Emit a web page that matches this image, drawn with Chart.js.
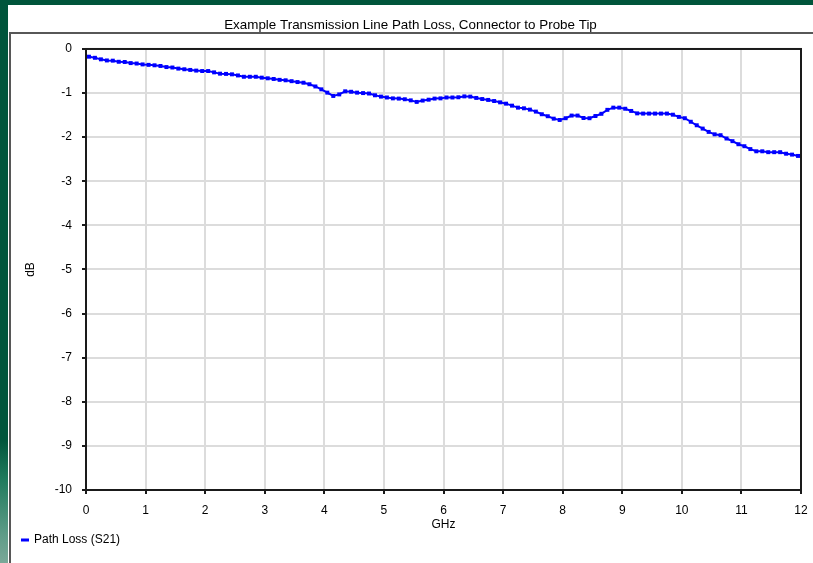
<!DOCTYPE html>
<html>
<head>
<meta charset="utf-8">
<title>Path Loss</title>
<script src="https://cdn.jsdelivr.net/npm/chart.js@4.4.1/dist/chart.umd.min.js"></script>
<style>
  html, body { margin: 0; padding: 0; }
  body {
    width: 813px; height: 563px; overflow: hidden; position: relative;
    background: linear-gradient(to bottom, #00553b 0%, #00553b 78%, #1f7a5c 85%, #5f9c88 95%, #7aa898 100%);
  }
  #panel { position: absolute; left: 8px; top: 5px; right: 0; bottom: 0; background: #fff; }
  #frame { position: absolute; left: 9px; top: 32px; width: 820px; height: 560px;
           border-top: 2px solid #575757; border-left: 2px solid #575757; }
  #chart { position: absolute; left: 0; top: 0; }
</style>
</head>
<body>
<div id="panel"></div>
<div id="frame"></div>
<canvas id="chart" width="813" height="563"></canvas>
<script>
// ===== DATA =====
const chartTitle  = "Example Transmission Line Path Loss, Connector to Probe Tip";
const seriesName  = "Path Loss (S21)";
const xTitle      = "GHz";
const yTitle      = "dB";
const xTicks      = [0, 1, 2, 3, 4, 5, 6, 7, 8, 9, 10, 11, 12];
const yTicks      = [0, -1, -2, -3, -4, -5, -6, -7, -8, -9, -10];

// sweep frequencies (GHz)
const freqGHz = [
  0.05, 0.15, 0.25, 0.35, 0.45, 0.55, 0.65, 0.75, 0.85, 0.95,
  1.05, 1.15, 1.25, 1.35, 1.45, 1.55, 1.65, 1.75, 1.85, 1.95,
  2.05, 2.15, 2.25, 2.35, 2.45, 2.55, 2.65, 2.75, 2.85, 2.95,
  3.05, 3.15, 3.25, 3.35, 3.45, 3.55, 3.65, 3.75, 3.85, 3.95,
  4.05, 4.15, 4.25, 4.35, 4.45, 4.55, 4.65, 4.75, 4.85, 4.95,
  5.05, 5.15, 5.25, 5.35, 5.45, 5.55, 5.65, 5.75, 5.85, 5.95,
  6.05, 6.15, 6.25, 6.35, 6.45, 6.55, 6.65, 6.75, 6.85, 6.95,
  7.05, 7.15, 7.25, 7.35, 7.45, 7.55, 7.65, 7.75, 7.85, 7.95,
  8.05, 8.15, 8.25, 8.35, 8.45, 8.55, 8.65, 8.75, 8.85, 8.95,
  9.05, 9.15, 9.25, 9.35, 9.45, 9.55, 9.65, 9.75, 9.85, 9.95,
  10.05, 10.15, 10.25, 10.35, 10.45, 10.55, 10.65, 10.75, 10.85, 10.95,
  11.05, 11.15, 11.25, 11.35, 11.45, 11.55, 11.65, 11.75, 11.85, 11.95
];

// S21 (dB)
const s21dB = [
  -0.175, -0.20, -0.235, -0.26, -0.265, -0.29, -0.295, -0.32, -0.33, -0.35,
  -0.36, -0.37, -0.385, -0.41, -0.42, -0.445, -0.46, -0.475, -0.49, -0.50,
  -0.50, -0.53, -0.56, -0.565, -0.575, -0.60, -0.63, -0.63, -0.63, -0.65,
  -0.665, -0.68, -0.70, -0.71, -0.73, -0.75, -0.765, -0.80, -0.85, -0.915,
  -0.99, -1.065, -1.03, -0.96, -0.97, -0.99, -1.00, -1.01, -1.05, -1.08,
  -1.10, -1.12, -1.125, -1.14, -1.165, -1.20, -1.17, -1.15, -1.125, -1.12,
  -1.10, -1.10, -1.095, -1.075, -1.08, -1.11, -1.135, -1.155, -1.18, -1.21,
  -1.24, -1.285, -1.33, -1.345, -1.375, -1.42, -1.48, -1.525, -1.58, -1.61,
  -1.57, -1.51, -1.51, -1.565, -1.57, -1.52, -1.47, -1.38, -1.33, -1.33,
  -1.355, -1.405, -1.46, -1.465, -1.465, -1.465, -1.465, -1.465, -1.49, -1.54,
  -1.57, -1.65, -1.73, -1.805, -1.88, -1.935, -1.955, -2.03, -2.09, -2.16,
  -2.205, -2.27, -2.32, -2.32, -2.34, -2.34, -2.34, -2.375, -2.395, -2.425
];

// ===== CHART =====
Chart.defaults.font.family = '"Liberation Sans", Arial, sans-serif';
Chart.defaults.font.size = 12;
Chart.defaults.color = "#000";

// black frame round the plot area
const plotFrame = {
  id: "plotFrame",
  beforeDatasetsDraw(chart) {
    const { ctx, chartArea: a } = chart;
    ctx.save();
    ctx.strokeStyle = "#1a1a1a";
    ctx.lineWidth = 2;
    ctx.strokeRect(a.left, a.top, a.right - a.left, a.bottom - a.top);
    ctx.restore();
  }
};

const points = freqGHz.map((f, i) => ({ x: f, y: s21dB[i] }));

new Chart(document.getElementById("chart"), {
  type: "line",
  data: {
    datasets: [{
      label: seriesName,
      data: points,
      borderColor: "#0000ff",
      backgroundColor: "#0000ff",
      borderWidth: 2,
      pointStyle: "rect",
      pointRadius: 2.8,
      pointBorderWidth: 0,
      pointBackgroundColor: "#0000ff",
      tension: 0
    }]
  },
  options: {
    responsive: false,
    devicePixelRatio: 1,
    animation: false,
    layout: { autoPadding: false, padding: { left: 20, right: 12, top: 0, bottom: 7 } },
    plugins: {
      title: {
        display: true,
        text: chartTitle,
        font: { size: 13.4, weight: "normal" },
        color: "#000",
        padding: { top: 17, bottom: 15.9 }
      },
      legend: {
        position: "bottom",
        align: "start",
        labels: { boxWidth: 6, boxHeight: 1, padding: 2, color: "#000", font: { size: 12 } }
      },
      tooltip: { enabled: false }
    },
    scales: {
      x: {
        type: "linear",
        min: 0, max: 12,
        afterFit: s => { s.height = 42; s.paddingLeft = 0; s.paddingRight = 8; },
        afterBuildTicks: s => { s.ticks = xTicks.map(v => ({ value: v })); },
        ticks: { padding: 9, color: "#000", maxRotation: 0 },
        grid: { color: "#dcdcdc", lineWidth: 2, tickColor: "#1a1a1a", tickWidth: 2, tickLength: 4 },
        border: { display: false },
        title: { display: true, text: xTitle, padding: { top: 0, bottom: 0 }, color: "#000" }
      },
      y: {
        min: -10, max: 0,
        afterFit: s => { s.width = 66; },
        afterBuildTicks: s => { s.ticks = yTicks.map(v => ({ value: v })); },
        ticks: { padding: 10, color: "#000" },
        grid: { color: "#dcdcdc", lineWidth: 2, tickColor: "#1a1a1a", tickWidth: 2, tickLength: 4 },
        border: { display: false },
        title: { display: true, text: yTitle, padding: { top: 3, bottom: 0 }, color: "#000" }
      }
    }
  },
  plugins: [plotFrame]
});
</script>
</body>
</html>
